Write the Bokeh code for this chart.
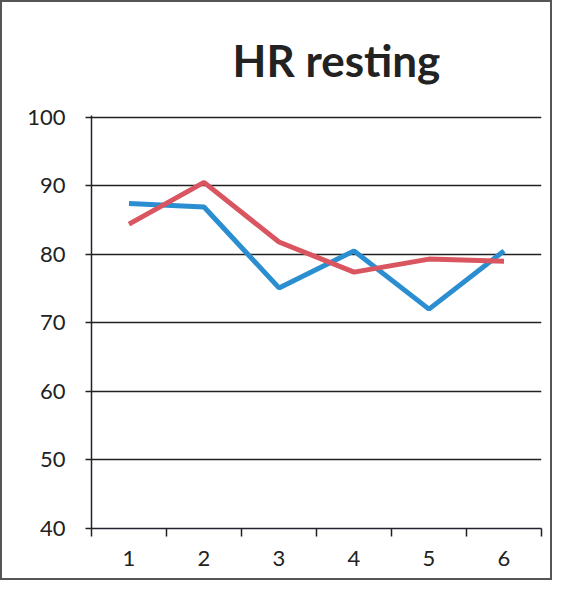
from bokeh.plotting import figure
from bokeh.models import FixedTicker, Range1d
from bokeh.embed import file_html
from bokeh.resources import INLINE

categories = [1, 2, 3, 4, 5, 6]
series_blue = [87.4, 86.9, 75.1, 80.5, 72.0, 80.5]
series_red = [84.4, 90.5, 81.8, 77.4, 79.3, 79.0]
y_ticks = [40, 50, 60, 70, 80, 90, 100]
x_boundaries = [0.5, 1.5, 2.5, 3.5, 4.5, 5.5, 6.5]

p = figure(width=552, height=580, output_backend="svg", toolbar_location=None,
           x_range=Range1d(0.5, 6.5), y_range=Range1d(40, 100.25),
           min_border_left=89, min_border_right=13, min_border_top=113, min_border_bottom=54,
           title="HR resting")
p.styles = {"border": "2px solid #555"}
p.title.align = "left"
p.title.text_font = "Lato"
p.title.text_font_style = "bold"
p.title.text_font_size = "44px"
p.title.text_color = "#222"
p.title.offset = 141
p.title.standoff = 59

p.outline_line_color = None
p.xgrid.grid_line_color = None
p.ygrid.ticker = FixedTicker(ticks=y_ticks)
p.ygrid.grid_line_color = "#222"
p.ygrid.grid_line_width = 1.5

p.yaxis.ticker = FixedTicker(ticks=y_ticks)
p.xaxis.ticker = FixedTicker(ticks=categories, minor_ticks=x_boundaries)
for ax in (p.xaxis, p.yaxis):
    ax.axis_line_color = "#223"
    ax.axis_line_width = 1.5
    ax.major_label_text_font = "Lato"
    ax.major_label_text_font_size = "22px"
    ax.major_label_text_color = "#222"
    ax.major_tick_line_color = "#222"
    ax.minor_tick_line_color = "#222"
    ax.major_tick_line_width = 1.5
    ax.minor_tick_line_width = 1.5
p.yaxis.major_tick_in = 0
p.yaxis.major_tick_out = 6
p.yaxis.minor_tick_out = 0
p.yaxis.minor_tick_in = 0
p.yaxis.major_label_standoff = 20
p.xaxis.major_tick_in = 0
p.xaxis.major_tick_out = 0
p.xaxis.minor_tick_in = 0
p.xaxis.minor_tick_out = 8
p.xaxis.major_label_standoff = 14

p.line(categories, series_blue, line_color="#2a8ed0", line_width=5)
p.line(categories, series_red, line_color="#d95560", line_width=5)

open("out.html", "w").write(file_html(p, INLINE))
